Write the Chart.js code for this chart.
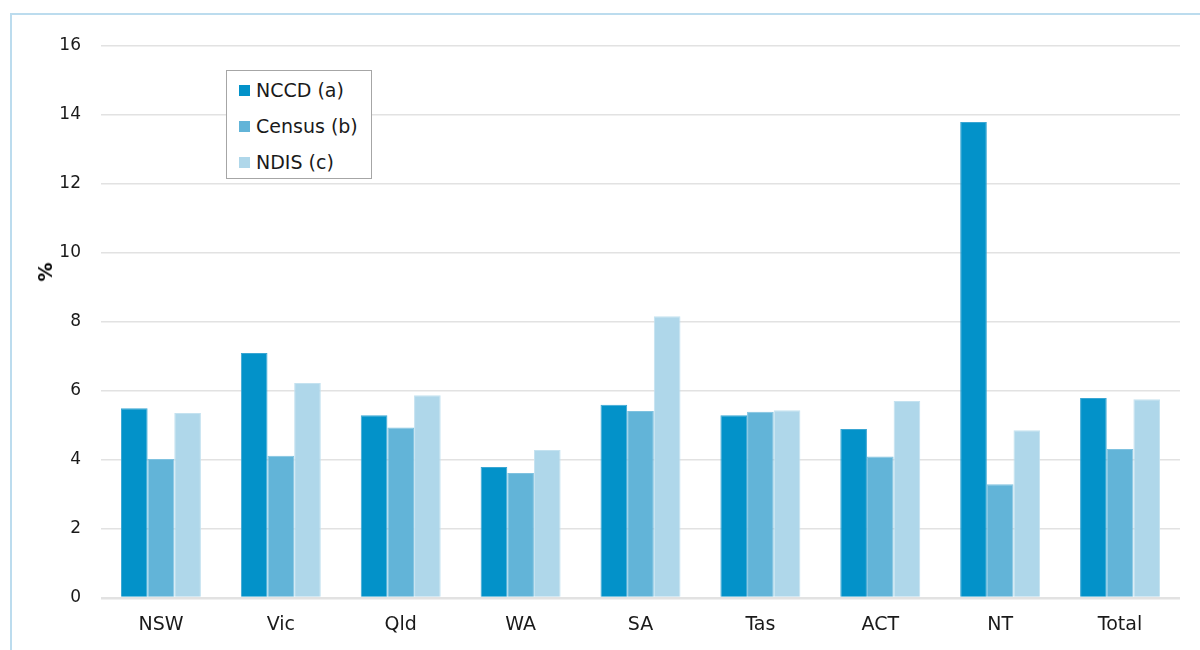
<!DOCTYPE html>
<html>
<head>
<meta charset="utf-8">
<script src="https://cdn.jsdelivr.net/npm/chart.js@4/dist/chart.umd.min.js"></script>
<style>
  body { margin: 0; background: #fff; font-family: "DejaVu Sans", sans-serif; }
  #wrap { position: relative; width: 1200px; height: 650px; overflow: hidden; }
  #frame { position: absolute; left: 10px; top: 13px; width: 1300px; height: 700px;
           border-left: 2px solid #bcdcee; border-top: 2px solid #bcdcee; }
  #legend { position: absolute; left: 226px; top: 70px; width: 144px; height: 107px;
            border: 1px solid #a6a6a6; background: #fff; color: #1a1a1a; font-size: 19px; }
  #legend div { position: absolute; left: 12px; height: 22px; line-height: 22px; white-space: nowrap; }
  #legend span { display: inline-block; width: 11px; height: 11px; margin-right: 6px; vertical-align: 1px; }
  #ytitle { position: absolute; left: 45px; top: 272px; transform: translate(-50%, -50%) rotate(-90deg);
            font-weight: bold; font-size: 19px; color: #000; }
</style>
</head>
<body>
<div id="wrap">
  <div id="frame"></div>
  <canvas id="chartMain" width="1200" height="650"></canvas>
  <div id="legend"></div>
  <div id="ytitle">%</div>
</div>
<script>
// kategori
const labelState = ["NSW", "Vic", "Qld", "WA", "SA", "Tas", "ACT", "NT", "Total"];

// data (%)
const dataNccd = [5.5, 7.1, 5.3, 3.8, 5.6, 5.3, 4.9, 13.8, 5.8];
const dataCensus = [4.03, 4.12, 4.94, 3.62, 5.42, 5.4, 4.1, 3.3, 4.32];
const dataNdis = [5.36, 6.23, 5.88, 4.29, 8.17, 5.44, 5.71, 4.86, 5.76];

const yTicks = [0, 2, 4, 6, 8, 10, 12, 14, 16];

const chartMain = document.getElementById("chartMain");

const chart = new Chart(chartMain, {
  type: "bar",
  data: {
    labels: labelState,
    datasets: [
      {
        label: "NCCD (a)",
        data: dataNccd,
        backgroundColor: "#0392c9",
        borderColor: "#3aa6d3",
        borderWidth: 1,
      },
      {
        label: "Census (b)",
        data: dataCensus,
        backgroundColor: "#62b4d8",
        borderColor: "#7fc2e0",
        borderWidth: 1,
      },
      {
        label: "NDIS (c)",
        data: dataNdis,
        backgroundColor: "#afd7ea",
        borderColor: "#c4e2f0",
        borderWidth: 1,
      },
    ],
  },
  options: {
    responsive: false,
    animation: false,
    layout: { padding: { top: 46, right: 20, left: 30, bottom: 0 } },
    datasets: { bar: { categoryPercentage: 0.667, barPercentage: 1 } },
    plugins: {
      legend: { display: false },
      tooltip: { enabled: false },
    },
    scales: {
      x: {
        grid: { display: false },
        border: { display: false },
        ticks: { color: "#1a1a1a", font: { family: "DejaVu Sans", size: 19 }, padding: 8 },
        afterFit: (s) => { s.height = 52; },
      },
      y: {
        min: 0,
        max: 16,
        afterBuildTicks: (s) => { s.ticks = yTicks.map((v) => ({ value: v })); },
        grid: {
          color: "#e2e2e2",
          lineWidth: (c) => (c.tick && c.tick.value === 0 ? 2.5 : 1.5),
          drawTicks: false,
        },
        border: { display: false },
        ticks: { color: "#1a1a1a", font: { family: "DejaVu Sans", size: 17 }, padding: 20 },
        afterFit: (s) => { s.width = 71; },
      },
    },
  },
});

// legend
const legendBox = document.getElementById("legend");
chart.data.datasets.forEach((ds, i) => {
  const row = document.createElement("div");
  row.style.top = (8 + i * 36) + "px";
  row.innerHTML = '<span style="background:' + ds.backgroundColor + '"></span>' + ds.label;
  legendBox.appendChild(row);
});
</script>
</body>
</html>
